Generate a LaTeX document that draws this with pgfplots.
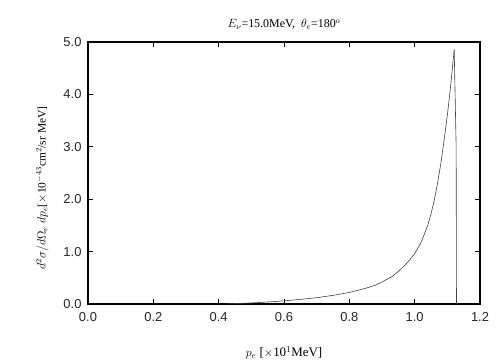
\documentclass[border=0pt]{standalone}
\usepackage{fontspec}
\setmainfont{Liberation Serif}
\newfontfamily\ticksans{Liberation Sans}
\usepackage{pgfplots}
\pgfplotsset{compat=1.18}
\begin{document}
\begin{tikzpicture}[x=1bp,y=1bp]
\path[use as bounding box] (-88bp,-56bp) rectangle (416bp,304bp);
\begin{axis}[
  at={(0,0)}, anchor=south west,
  scale only axis, width=392bp, height=262bp,
  xmin=0, xmax=1.2, ymin=0, ymax=5,
  xtick={0,0.2,...,1.2}, ytick={0,1,...,5},
  tick align=inside, major tick length=5bp,
  axis line style={line width=1.3bp},
  every tick/.style={line width=0.8bp, black},
  /pgf/number format/assume math mode=true,
  /pgf/number format/fixed, /pgf/number format/fixed zerofill,
  /pgf/number format/precision=1,
  tick label style={font=\ticksans\fontsize{13}{15}\selectfont, color=black!85},
  xticklabel style={yshift=-5bp},
  yticklabel style={xshift=-3bp},
  title={\fontsize{12}{14}\selectfont $E_\nu$=15.0MeV, \ $\theta_e$=180$^o$},
  title style={yshift=3bp},
  xlabel={\fontsize{13}{15}\selectfont $p_e$ [$\times$10$^1$MeV]},
  xlabel style={yshift=-18bp},
  ylabel={\fontsize{11.5}{13}\selectfont $d^2\sigma/d\Omega_e\;dp_e$[$\times$10$^{-43}$cm$^2$/sr MeV]},
  ylabel style={yshift=8bp, xshift=-15bp},
]
\addplot[black!75, line width=0.6bp] coordinates {
(0.42,0.0) (0.45,0.008) (0.5,0.02) (0.55,0.038) (0.6,0.06) (0.65,0.088) (0.7,0.12)
(0.75,0.165) (0.8,0.22) (0.85,0.30) (0.88,0.36) (0.9,0.42) (0.93,0.52) (0.95,0.62)
(0.97,0.74) (0.99,0.88) (1.0,0.96) (1.02,1.18) (1.04,1.5) (1.05,1.72) (1.06,1.98)
(1.07,2.3) (1.08,2.68) (1.09,3.12) (1.10,3.6) (1.11,4.15) (1.121,4.86)
(1.127,3.0) (1.128,0.0)
};
\end{axis}
\end{tikzpicture}
\end{document}
